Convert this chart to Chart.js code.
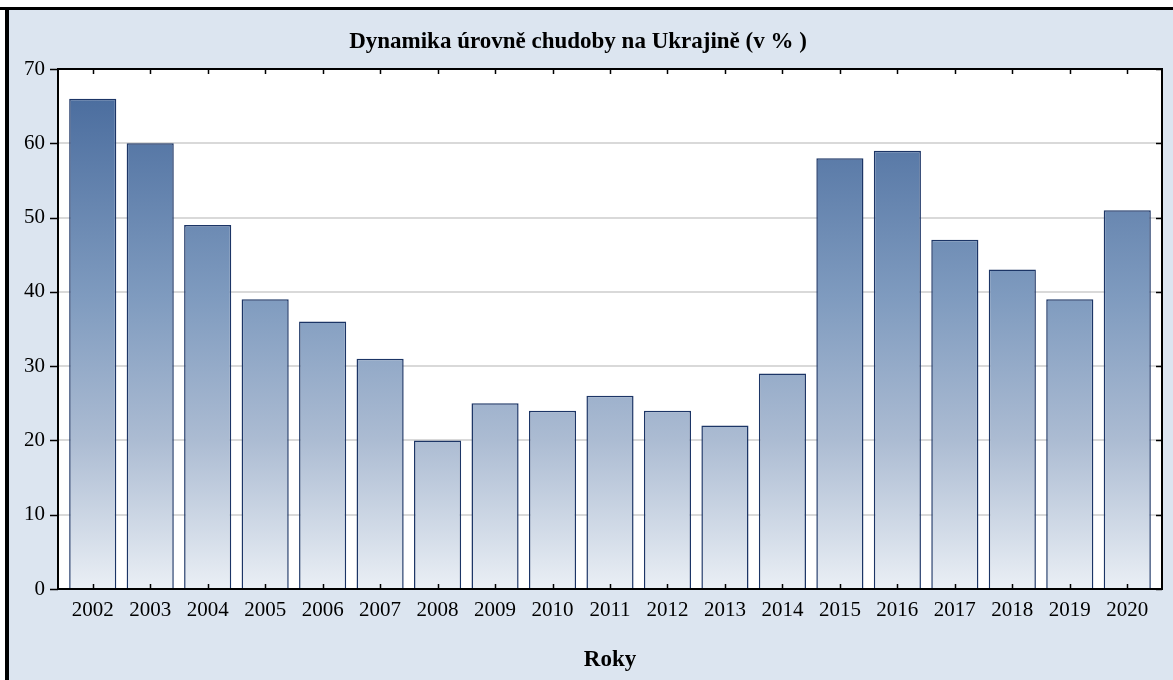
<!DOCTYPE html>
<html>
<head>
<meta charset="utf-8">
<script src="https://cdn.jsdelivr.net/npm/chart.js@4"></script>
<style>
  html, body { margin: 0; padding: 0; background: #fff; }
  #wrap { position: relative; width: 1173px; height: 680px; }
</style>
</head>
<body>
<div id="wrap"><canvas id="chart" width="1173" height="680"></canvas></div>
<script>
const years = ['2002', '2003', '2004', '2005', '2006', '2007', '2008', '2009', '2010', '2011',
  '2012', '2013', '2014', '2015', '2016', '2017', '2018', '2019', '2020'];
const povertyRate = [66, 60, 49, 39, 36, 31, 20, 25, 24, 26, 24, 22, 29, 58, 59, 47, 43, 39, 51];
const yTicks = [0, 10, 20, 30, 40, 50, 60, 70];

const chartTitle = 'Dynamika úrovně chudoby na Ukrajině (v % )';
const xTitle = 'Roky';
const serif = '"Liberation Serif", "Times New Roman", serif';

// the plot box sits a few px outside the category range, like the original
const boxInset = 6;

// page background + black top/left frame
const backdrop = {
  id: 'backdrop',
  beforeDraw(chart) {
    const { ctx, width, height } = chart;
    ctx.save();
    ctx.fillStyle = '#ffffff';
    ctx.fillRect(0, 0, width, height);
    ctx.fillStyle = '#dce5f0';
    ctx.fillRect(9, 10, width - 9, height - 10);
    ctx.fillStyle = '#000';
    ctx.fillRect(0, 7, width, 3);
    ctx.fillRect(5, 7, 4, height - 7);
    ctx.restore();
  }
};

// white plot box with horizontal grid, drawn under the bars
const plotBox = {
  id: 'plotBox',
  beforeDatasetsDraw(chart) {
    const { ctx, chartArea: a, scales } = chart;
    const left = a.left - boxInset, right = a.right + boxInset;
    ctx.save();
    ctx.fillStyle = '#fff';
    ctx.fillRect(left, a.top, right - left, a.bottom - a.top);
    ctx.strokeStyle = '#d9d9d9';
    ctx.lineWidth = 2;
    ctx.beginPath();
    yTicks.forEach((v) => {
      const y = Math.round(scales.y.getPixelForValue(v));
      ctx.moveTo(left, y); ctx.lineTo(right, y);
    });
    ctx.stroke();
    ctx.restore();
  },
  afterDraw(chart) {
    const { ctx, chartArea: a, scales } = chart;
    const left = a.left - boxInset, right = a.right + boxInset;
    ctx.save();
    ctx.strokeStyle = '#000';
    ctx.lineWidth = 2;
    ctx.strokeRect(left, a.top, right - left, a.bottom - a.top);
    ctx.lineWidth = 1.5;
    ctx.beginPath();
    scales.x.ticks.forEach((t, i) => {
      const x = Math.round(scales.x.getPixelForTick(i)) + 0.5;
      ctx.moveTo(x, a.bottom); ctx.lineTo(x, a.bottom - 5);
      ctx.moveTo(x, a.top); ctx.lineTo(x, a.top + 5);
    });
    yTicks.forEach((v) => {
      const y = Math.round(scales.y.getPixelForValue(v)) + 0.5;
      ctx.moveTo(right, y); ctx.lineTo(right - 6, y);
      ctx.moveTo(left, y); ctx.lineTo(left - 8, y);
    });
    ctx.stroke();
    ctx.restore();
  }
};

function barGradient(context) {
  const { ctx, chartArea } = context.chart;
  if (!chartArea) return '#7f9bbf';
  const g = ctx.createLinearGradient(0, chartArea.top, 0, chartArea.bottom);
  g.addColorStop(0, '#44679a');
  g.addColorStop(0.44, '#7f9bbf');
  g.addColorStop(0.71, '#abbbd2');
  g.addColorStop(1, '#eaeff5');
  return g;
}

new Chart(document.getElementById('chart'), {
  type: 'bar',
  data: {
    labels: years,
    datasets: [{
      data: povertyRate,
      backgroundColor: barGradient,
      borderColor: '#1c3566',
      borderWidth: 1.5,
      barPercentage: 0.82,
      categoryPercentage: 1,
    }]
  },
  options: {
    responsive: false,
    animation: false,
    events: [],
    layout: { padding: { left: 0, right: 17, top: 0, bottom: 0 } },
    plugins: {
      legend: { display: false },
      tooltip: { enabled: false },
      title: {
        display: true,
        text: chartTitle,
        color: '#000',
        font: { family: serif, size: 23, weight: 'bold' },
        padding: { top: 28, bottom: 13.4 },
      },
    },
    scales: {
      x: {
        afterFit(scale) { scale.height = 91; },
        grid: { display: false, drawTicks: false },
        border: { display: false },
        ticks: { color: '#000', font: { family: serif, size: 21 }, padding: 9, maxRotation: 0, autoSkip: false },
        title: {
          display: true,
          text: xTitle,
          color: '#000',
          font: { family: serif, size: 23, weight: 'bold' },
          padding: { top: 20, bottom: 6 },
        },
      },
      y: {
        min: 0,
        max: 70,
        afterBuildTicks(scale) { scale.ticks = yTicks.map((v) => ({ value: v })); },
        afterFit(scale) { scale.width = 64; },
        grid: { display: false, drawTicks: false },
        border: { display: false },
        ticks: { color: '#000', font: { family: serif, size: 21 }, padding: 19 },
      },
    },
  },
  plugins: [backdrop, plotBox],
});
</script>
</body>
</html>
